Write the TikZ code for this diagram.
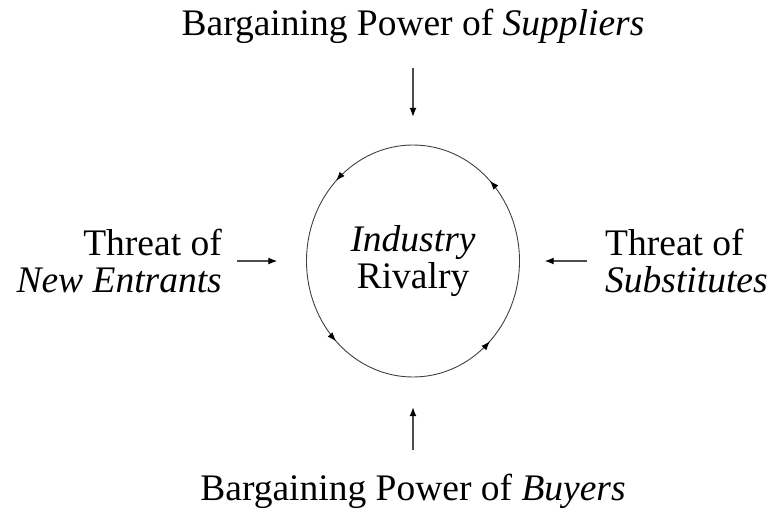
\documentclass[tikz,border=0pt]{standalone}
\usepackage{fontspec}
\setmainfont{Liberation Serif}
\usetikzlibrary{arrows.meta,shapes.geometric,decorations.markings}

\begin{document}
\begin{tikzpicture}[x=1pt,y=-1pt,
  label/.style={inner sep=0pt, font=\fontsize{37.5}{37}\selectfont},
  tip/.style={Latex[length=9pt,width=7pt,color=black]},
  force/.style={draw=black!70, line width=1.3pt, -{Latex[length=9pt,width=7pt,color=black]}},
  ring/.style={draw=black!75, line width=0.9pt},
  ringarrows/.style={postaction={decorate}, decoration={markings,
    mark=at position 0.125 with {\arrowreversed{Latex[length=9pt,width=6.5pt,color=black]}},
    mark=at position 0.375 with {\arrowreversed{Latex[length=9pt,width=6.5pt,color=black]}},
    mark=at position 0.625 with {\arrowreversed{Latex[length=9pt,width=6.5pt,color=black]}},
    mark=at position 0.875 with {\arrowreversed{Latex[length=9pt,width=6.5pt,color=black]}}}}
]
\useasboundingbox (0,0) rectangle (773,512);

% central rivalry ring
\node[ellipse, minimum width=213pt, minimum height=232pt, inner sep=0pt] (rival) at (413,261) {};
\draw[ring, ringarrows] (rival.center) ellipse [x radius=106.5, y radius=116];
\node[label, align=center] (rivtext) at (413,261) {\textit{Industry}\\Rivalry};

% the four outside forces
\node[label, anchor=base] (sup) at (413,35) {Bargaining Power of \textit{Suppliers}};
\node[label, anchor=base] (buy) at (413,500) {Bargaining Power of \textit{Buyers}};
\node[label, anchor=east, align=right] (ent) at (222,261) {Threat of\\\textit{New Entrants}};
\node[label, anchor=west, align=left] (subst) at (605,261) {Threat of\\\textit{Substitutes}};

% arrows pointing at the rivalry ring
\draw[force, shorten <=25pt, shorten >=28pt] (sup) -- (rival);
\draw[force, shorten <=23pt, shorten >=30pt] (buy) -- (rival);
\draw[force, shorten <=15pt, shorten >=29pt] (ent) -- (rival);
\draw[force, shorten <=18pt, shorten >=25pt] (subst) -- (rival);
\end{tikzpicture}
\end{document}
